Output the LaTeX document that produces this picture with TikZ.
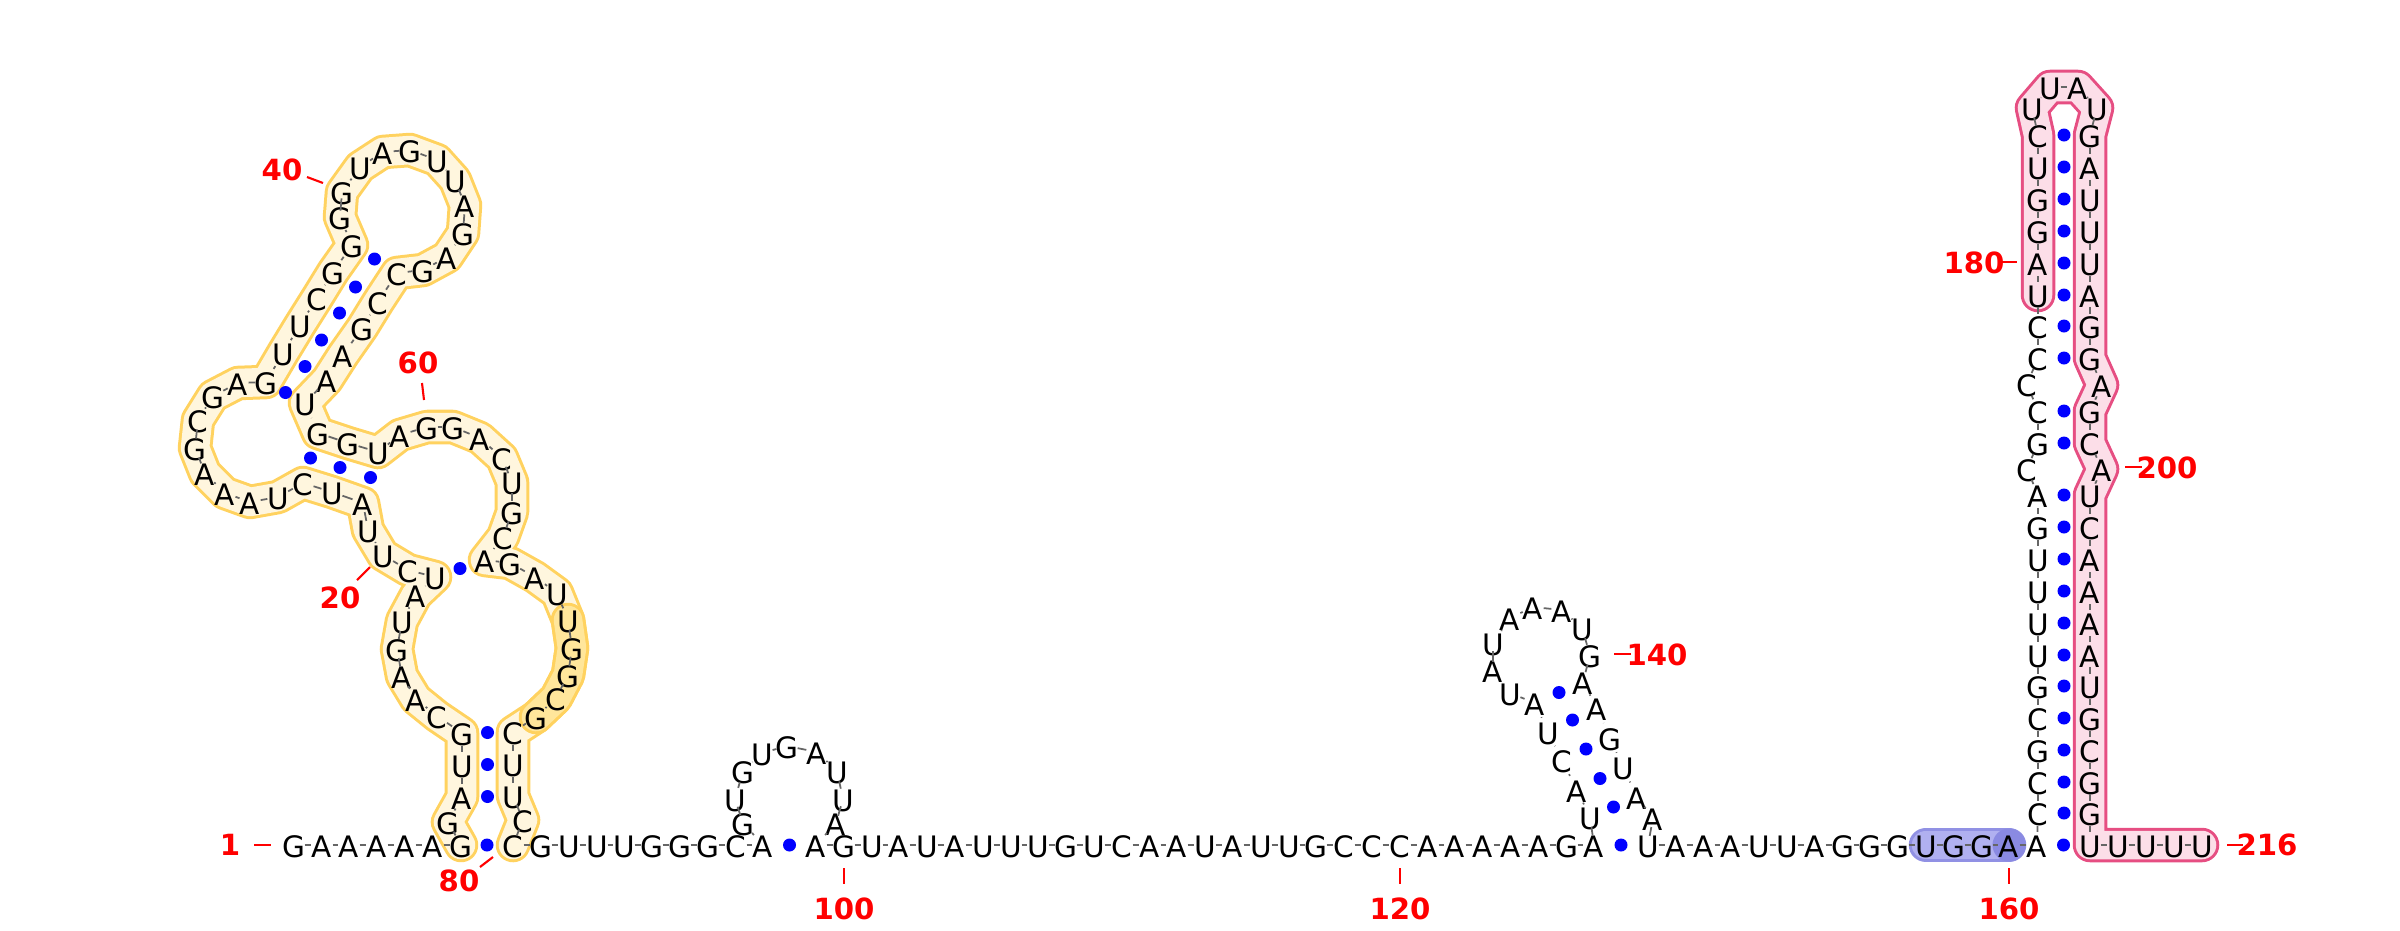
\documentclass[tikz,border=0pt]{standalone}
\usepackage{fontspec}
\setmainfont{DejaVu Sans}
\usetikzlibrary{shapes.geometric,backgrounds}
\definecolor{ylwline}{RGB}{255,210,95}
\definecolor{ylwfill}{RGB}{255,246,222}
\definecolor{ylwdark}{RGB}{255,230,155}
\definecolor{pinkline}{RGB}{230,78,130}
\definecolor{pinkfill}{RGB}{252,222,232}
\definecolor{blueline}{RGB}{145,145,228}
\definecolor{bluefill}{RGB}{176,176,240}
\definecolor{bluedark}{RGB}{138,138,226}
\begin{document}
\begin{tikzpicture}[
x=0.01cm,y=-0.01cm,
base/.style={ellipse,inner sep=0pt,minimum width=2mm,minimum height=3mm,
  text height=0.73em,text depth=0pt,font=\fontsize{8.4}{10}\selectfont},
link/.style={draw=black!60,line width=0.5pt},
pairdot/.style={circle,fill=blue,inner sep=0pt,minimum size=1.3mm},
numlabel/.style={text=red,font=\bfseries\fontsize{8.3}{10}\selectfont},
tick/.style={draw=red,line width=0.6pt},
hlout/.style={line width=3.45mm,line cap=round,line join=round},
hlin/.style={line width=2.85mm,line cap=round,line join=round}
]
\useasboundingbox (0,0) rectangle (2400,930);

\foreach \x/\y/\l [count=\i] in {
294/845/G,322/845/A,349/845/A,377/845/A,405/845/A,433/845/A,461/845/G,
448/822/G,462/797/A,462/765/U,462/733/G,437/716/C,416/699/A,402/676/A,
397/649/G,402/621/U,416/595/A,435/577/U,408/570/C,383/555/U,368/530/U,
363/503/A,332/492/U,303/483/C,278/497/U,250/502/A,225/493/A,205/473/A,
195/448/G,198/420/C,213/396/G,238/383/A,266/382/G,283/353/U,300/325/U,
317/298/C,333/272/G,352/245/G,340/217/G,342/192/G,360/167/U,383/152/A,
410/150/G,437/160/U,455/180/U,465/205/A,463/233/G,447/257/A,423/270/G,
397/273/C,378/302/C,362/328/G,343/355/A,327/380/A,305/403/U,318/433/G,
348/443/G,378/452/U,400/435/A,427/427/G,453/427/G,480/438/A,502/458/C,
512/482/U,512/512/G,503/537/C,485/560/A,510/563/G,535/577/A,557/593/U,
568/620/U,572/648/G,568/675/G,556/698/C,536/717/G,513/732/C,513/764/U,
513/796/U,523/820/C,513/845/C,
541/845/G,569/845/U,597/845/U,624/845/U,652/845/G,680/845/G,708/845/G,
736/845/C,763/845/A,
743/823/G,735/799/U,743/771/G,762/753/U,787/746/G,817/752/A,837/771/U,
843/799/U,836/823/A,
816/845/A,844/845/G,872/845/U,899/845/A,927/845/U,955/845/A,983/845/U,
1011/845/U,1038/845/U,1066/845/G,1094/845/U,1122/845/C,1150/845/A,
1177/845/A,1205/845/U,1233/845/A,1261/845/U,1289/845/U,1316/845/G,
1344/845/C,1372/845/C,1400/845/C,1428/845/A,1455/845/A,1483/845/A,
1511/845/A,1539/845/A,1567/845/G,1594/845/A,
1590/817/U,1577/790/A,1562/760/C,1548/732/U,1535/703/A,1510/693/U,
1493/670/A,1493/643/U,1510/618/A,1533/607/A,1562/610/A,1582/628/U,
1590/655/G,1583/682/A,1597/708/A,1610/738/G,1623/767/U,1637/797/A,
1653/818/A,
1648/845/U,1676/845/A,1704/845/A,1731/845/A,1759/845/U,1787/845/U,
1815/845/A,1843/845/G,1870/845/G,1898/845/G,1926/845/U,1954/845/G,
1982/845/G,2009/845/A,2037/845/A,
2038/813/C,2038/782/C,2038/750/G,2038/718/C,2038/686/G,2038/655/U,
2038/623/U,2038/591/U,2038/559/U,2038/527/G,2038/495/A,2027/469/C,
2038/443/G,2038/411/C,2027/384/C,2038/358/C,2038/326/C,2038/295/U,
2038/263/A,2038/231/G,2038/199/G,2038/167/U,2038/135/C,
2032/108/U,2050/87/U,2078/87/A,2097/108/U,
2090/135/G,2090/167/A,2090/199/U,2090/231/U,2090/263/U,2090/295/A,
2090/326/G,2090/358/G,2102/385/A,2090/411/G,2090/443/C,2102/469/A,
2090/495/U,2090/527/C,2090/559/A,2090/591/A,2090/623/A,2090/655/A,
2090/686/U,2090/718/G,2090/750/C,2090/782/G,2090/813/G,2090/845/U,
2118/845/U,2146/845/U,2174/845/U,2202/845/U}
  \node[base] (b\i) at (\x,\y) {\makebox[0pt]{\l}};

\begin{scope}[on background layer]
\draw[hlout,draw=ylwline] (b7.center) \foreach \i in {8,...,80}{ -- (b\i.center)};
\draw[hlin,draw=ylwfill] (b7.center) \foreach \i in {8,...,80}{ -- (b\i.center)};
\draw[hlout,draw=ylwline] (b71.center) \foreach \i in {72,...,75}{ -- (b\i.center)};
\draw[hlin,draw=ylwdark] (b71.center) \foreach \i in {72,...,75}{ -- (b\i.center)};
\draw[hlout,draw=pinkline] (b179.center) \foreach \i in {180,...,216}{ -- (b\i.center)};
\draw[hlin,draw=pinkfill] (b179.center) \foreach \i in {180,...,216}{ -- (b\i.center)};
\draw[hlout,draw=blueline] (b157.center) -- (b160.center);
\draw[hlin,draw=bluefill] (b157.center) -- (b160.center);
\node[circle,fill=bluedark,inner sep=0pt,minimum size=3.3mm] (dark160) at (b160) {};
\end{scope}

\foreach \i [evaluate=\i as \j using int(\i+1)] in {1,...,215}
  \draw[link] (b\i) -- (b\j);

\foreach \p/\q in {7/80,9/78,10/77,11/76,18/67,22/58,23/57,24/56,33/55,34/54,
  35/53,36/52,37/51,38/50,89/99,127/147,128/145,129/144,130/143,131/142,
  132/141,161/212,162/211,163/210,164/209,165/208,166/207,167/206,168/205,
  169/204,170/203,171/202,172/201,174/199,175/198,177/196,178/195,179/194,
  180/193,181/192,182/191,183/190,184/189}
  \path (b\p) -- node[pairdot] {} (b\q);

\foreach \t/\tx/\ty/\ax/\ay/\bx/\by in {
  1/230/845/254/845/271/845, 20/340/598/357/580/370/567,
  40/282/170/307/177/323/183, 60/418/363/422/383/424/400,
  80/459/881/480/867/493/857, 100/844/909/844/868/844/884,
  120/1400/909/1400/868/1400/884, 140/1657/655/1614/654/1631/654,
  160/2009/909/2009/868/2009/884, 180/1974/263/2000/262/2017/262,
  200/2167/468/2125/467/2142/467, 216/2267/845/2227/845/2243/845}
{
  \node[numlabel] (n\t) at (\tx,\ty) {\t};
  \draw[tick] (\ax,\ay) -- (\bx,\by);
}
\end{tikzpicture}
\end{document}
